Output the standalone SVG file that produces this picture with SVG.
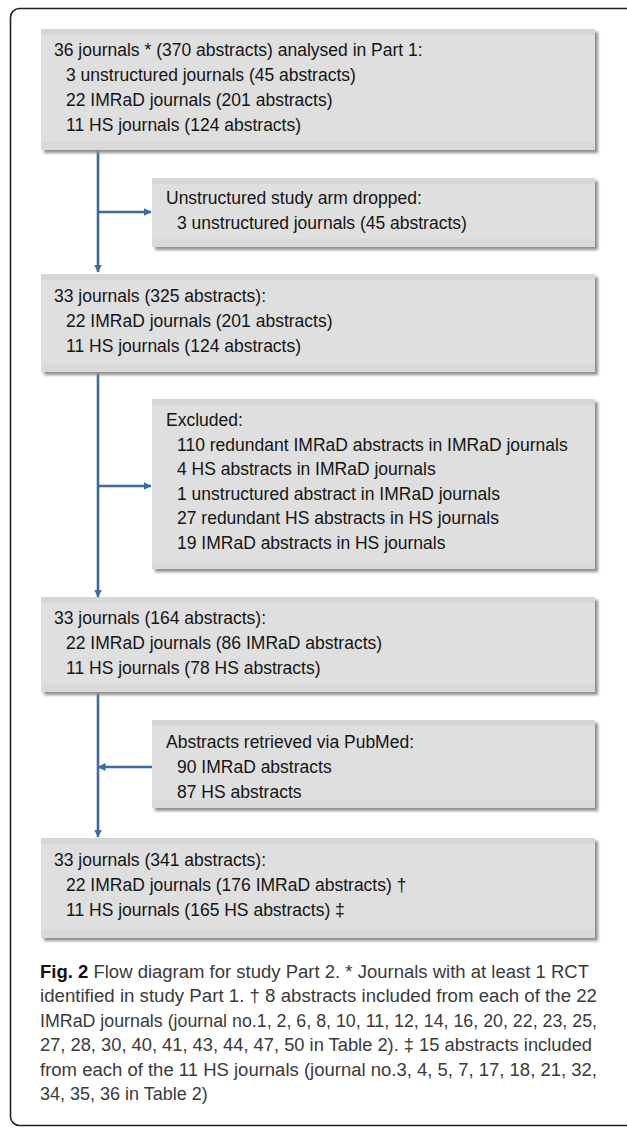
<svg xmlns="http://www.w3.org/2000/svg" width="627" height="1128" viewBox="0 0 627 1128">
<defs>
<filter id="sh" x="-5%" y="-5%" width="110%" height="120%"><feGaussianBlur stdDeviation="1.6"/></filter>
<marker id="ah" viewBox="0 0 8 8" refX="7.5" refY="4" markerWidth="8" markerHeight="8" markerUnits="userSpaceOnUse" orient="auto"><path d="M0,0 L8,4 L0,8 z" fill="#3e6aa4"/></marker>
</defs>
<style>
.shd{fill:#8e8e8e;filter:url(#sh)}
.bx{fill:#dfdfdf}
.bt{fill:#d6d6d6}
.bb{fill:#d9d9d9}
.t{font-family:"Liberation Sans",Arial,sans-serif;font-size:17.5px;fill:#141414}
.cap{font-family:"Liberation Sans",Arial,sans-serif;font-size:18px;fill:#3a3a3a}
.cn{stroke:#3e6aa4;stroke-width:2.6;fill:none}
</style>
<rect x="10.5" y="8.5" width="640" height="1117" rx="9" fill="#fff" stroke="#222" stroke-width="1.6"/>

<g id="connectors">
<path class="cn" d="M98,150 V272" marker-end="url(#ah)"/>
<path class="cn" d="M98,212 H151" marker-end="url(#ah)"/>
<path class="cn" d="M98,372 V597" marker-end="url(#ah)"/>
<path class="cn" d="M98,486 H151" marker-end="url(#ah)"/>
<path class="cn" d="M98,692 V837" marker-end="url(#ah)"/>
<path class="cn" d="M152,767 H98" marker-end="url(#ah)"/>
</g>

<g id="n1">
<rect class="shd" x="44" y="32" width="554" height="121"/>
<rect class="bx" x="41" y="29" width="554" height="121"/>
<rect class="bt" x="41" y="29" width="554" height="6"/>
<rect class="bb" x="41" y="142" width="554" height="8"/>
<text class="t" x="54" y="56">36 journals * (370 abstracts) analysed in Part 1:</text>
<text class="t" x="66" y="81">3 unstructured journals (45 abstracts)</text>
<text class="t" x="66" y="106">22 IMRaD journals (201 abstracts)</text>
<text class="t" x="66" y="131">11 HS journals (124 abstracts)</text>
</g>

<g id="n2">
<rect class="shd" x="155" y="181" width="443" height="69"/>
<rect class="bx" x="152" y="178" width="443" height="69"/>
<rect class="bt" x="152" y="178" width="443" height="6"/>
<rect class="bb" x="152" y="239" width="443" height="8"/>
<text class="t" x="166" y="204">Unstructured study arm dropped:</text>
<text class="t" x="177" y="229">3 unstructured journals (45 abstracts)</text>
</g>

<g id="n3">
<rect class="shd" x="44" y="277" width="554" height="98"/>
<rect class="bx" x="41" y="274" width="554" height="98"/>
<rect class="bt" x="41" y="274" width="554" height="6"/>
<rect class="bb" x="41" y="364" width="554" height="8"/>
<text class="t" x="54" y="302">33 journals (325 abstracts):</text>
<text class="t" x="66" y="327">22 IMRaD journals (201 abstracts)</text>
<text class="t" x="66" y="352">11 HS journals (124 abstracts)</text>
</g>

<g id="n4">
<rect class="shd" x="155" y="402" width="443" height="170"/>
<rect class="bx" x="152" y="399" width="443" height="170"/>
<rect class="bt" x="152" y="399" width="443" height="6"/>
<rect class="bb" x="152" y="561" width="443" height="8"/>
<text class="t" x="166" y="426">Excluded:</text>
<text class="t" x="177" y="451">110 redundant IMRaD abstracts in IMRaD journals</text>
<text class="t" x="177" y="475">4 HS abstracts in IMRaD journals</text>
<text class="t" x="177" y="500">1 unstructured abstract in IMRaD journals</text>
<text class="t" x="177" y="524">27 redundant HS abstracts in HS journals</text>
<text class="t" x="177" y="549">19 IMRaD abstracts in HS journals</text>
</g>

<g id="n5">
<rect class="shd" x="44" y="600" width="554" height="95"/>
<rect class="bx" x="41" y="597" width="554" height="95"/>
<rect class="bt" x="41" y="597" width="554" height="6"/>
<rect class="bb" x="41" y="684" width="554" height="8"/>
<text class="t" x="54" y="624">33 journals (164 abstracts):</text>
<text class="t" x="66" y="649">22 IMRaD journals (86 IMRaD abstracts)</text>
<text class="t" x="66" y="674">11 HS journals (78 HS abstracts)</text>
</g>

<g id="n6">
<rect class="shd" x="155" y="723" width="443" height="88"/>
<rect class="bx" x="152" y="720" width="443" height="88"/>
<rect class="bt" x="152" y="720" width="443" height="6"/>
<rect class="bb" x="152" y="800" width="443" height="8"/>
<text class="t" x="166" y="748">Abstracts retrieved via PubMed:</text>
<text class="t" x="177" y="773">90 IMRaD abstracts</text>
<text class="t" x="177" y="798">87 HS abstracts</text>
</g>

<g id="n7">
<rect class="shd" x="44" y="841" width="554" height="100"/>
<rect class="bx" x="41" y="838" width="554" height="100"/>
<rect class="bt" x="41" y="838" width="554" height="6"/>
<rect class="bb" x="41" y="930" width="554" height="8"/>
<text class="t" x="54" y="866">33 journals (341 abstracts):</text>
<text class="t" x="66" y="891">22 IMRaD journals (176 IMRaD abstracts)  †</text>
<text class="t" x="66" y="916">11 HS journals (165 HS abstracts)  ‡</text>
</g>

<g id="caption">
<text class="cap" x="40" y="978" textLength="549" lengthAdjust="spacingAndGlyphs"><tspan font-weight="bold" fill="#111">Fig. 2</tspan> Flow diagram for study Part 2. * Journals with at least 1 RCT</text>
<text class="cap" x="40" y="1002" textLength="557" lengthAdjust="spacingAndGlyphs">identified in study Part 1. † 8 abstracts included from each of the 22</text>
<text class="cap" x="40" y="1027" textLength="557" lengthAdjust="spacingAndGlyphs">IMRaD journals (journal no.1, 2, 6, 8, 10, 11, 12, 14, 16, 20, 22, 23, 25,</text>
<text class="cap" x="40" y="1051" textLength="552" lengthAdjust="spacingAndGlyphs">27, 28, 30, 40, 41, 43, 44, 47, 50 in Table 2). ‡ 15 abstracts included</text>
<text class="cap" x="40" y="1076" textLength="557" lengthAdjust="spacingAndGlyphs">from each of the 11 HS journals (journal no.3, 4, 5, 7, 17, 18, 21, 32,</text>
<text class="cap" x="40" y="1100">34, 35, 36 in Table 2)</text>
</g>
</svg>
